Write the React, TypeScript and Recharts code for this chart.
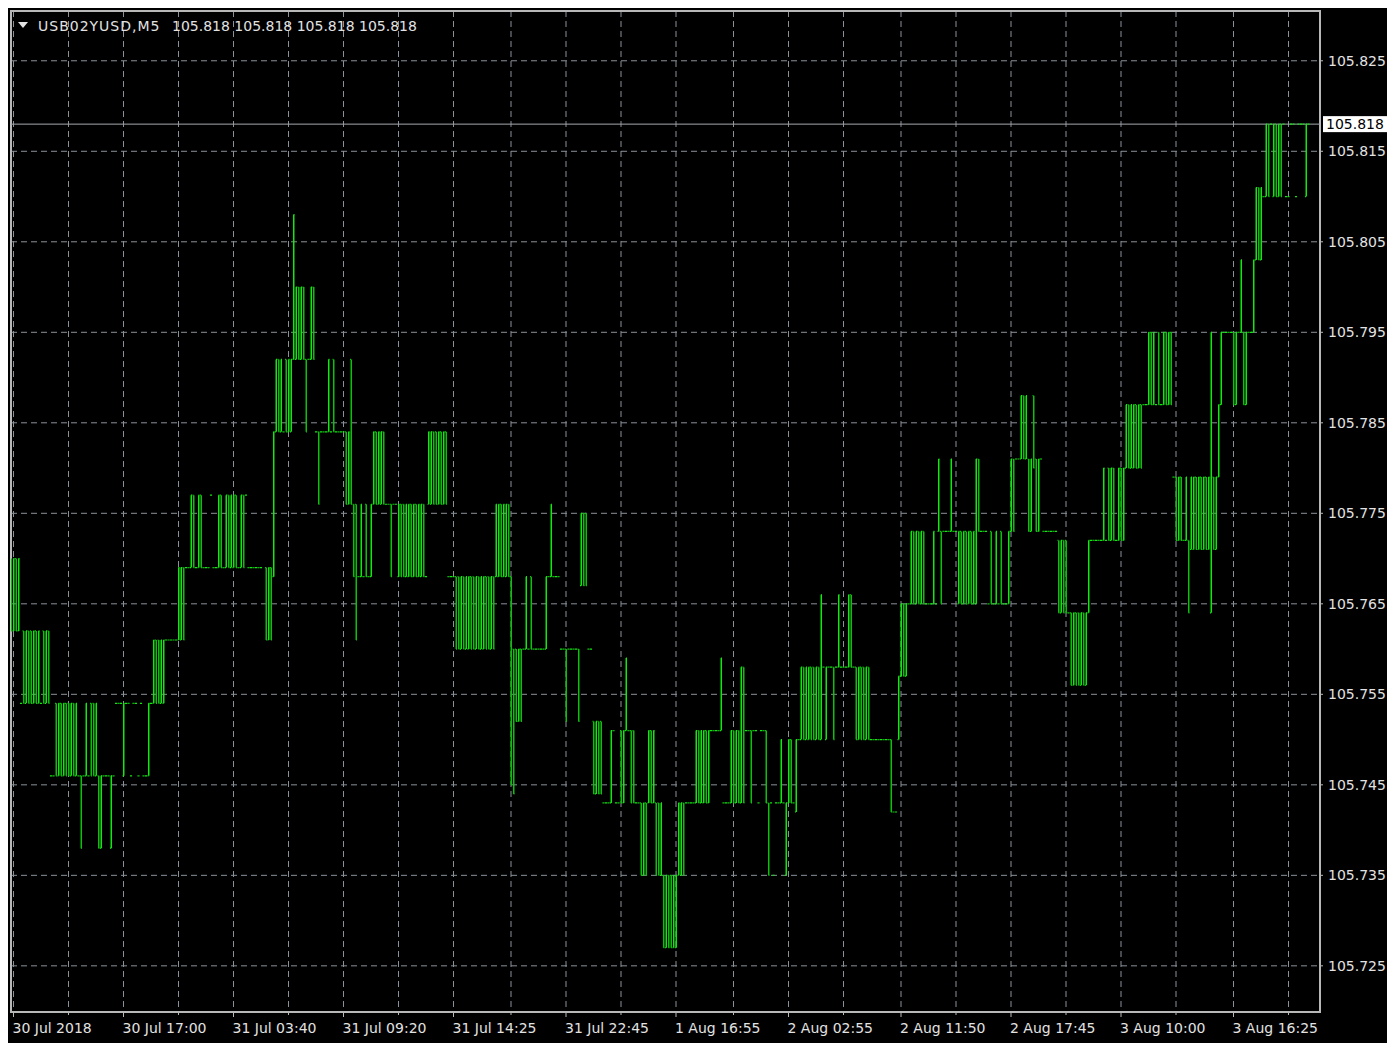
import React from "react";
import {
    ComposedChart,
    Bar,
    Scatter,
    XAxis,
    YAxis,
    CartesianGrid,
    ReferenceLine,
    ReferenceArea,
} from "recharts";

// each entry: [first bar number, low level, high level, bar pattern]
// u = low->high, d = high->low, l = flat at low, h = flat at high
type Seg = [number, number, number, string];

const jul30: Seg[] = [
    [0, 105.762, 105.77, "dudu"],
    [4, 105.754, 105.762, "ldudduduldud"],
    [16, 105.746, 105.754, "lldududdudul"],
    [28, 105.738, 105.746, "d"],
    [29, 105.746, 105.754, "lulddu"],
    [35, 105.738, 105.746, "du"],
    [37, 105.746, 105.754, "lll"],
    [40, 105.738, 105.746, "u"],
    [41, 105.746, 105.754, "lhhhuhhlhhlhllu"],
    [56, 105.754, 105.761, "ludduu"],
    [62, 105.761, 105.769, "llllluudh"],
    [71, 105.769, 105.777, "ludludlllhlludluduudludhllllll"],
    [102, 105.761, 105.769, "dud"],
    [105, 105.768, 105.784, "u"],
    [106, 105.784, 105.792, "udulduu"],
    [113, 105.792, 105.808, "u"],
    [114, 105.792, 105.8, "udud"],
    [118, 105.784, 105.792, "d"],
    [119, 105.792, 105.8, "lud"],
    [122, 105.776, 105.784, "hdh"],
    [125, 105.784, 105.792, "lluldllll"],
];

const jul31: Seg[] = [
    [134, 105.776, 105.784, "du"],
    [136, 105.776, 105.792, "d"],
    [137, 105.768, 105.776, "d"],
    [138, 105.761, 105.776, "d"],
    [139, 105.768, 105.776, "luldlu"],
    [145, 105.776, 105.784, "uduud"],
    [150, 105.768, 105.776, "hhdhh"],
    [155, 105.768, 105.776, "udduududuudl"],
    [167, 105.776, 105.784, "uuddudud"],
    [175, 105.76, 105.768, "hhh"],
    [178, 105.76, 105.768, "dduduudduduuddud"],
    [194, 105.768, 105.776, "uuduud"],
    [200, 105.745, 105.768, "d"],
    [201, 105.744, 105.76, "d"],
    [202, 105.752, 105.76, "dud"],
    [205, 105.76, 105.768, "luldllllluh"],
    [216, 105.768, 105.776, "ulll"],
    [220, 105.752, 105.76, "hhdhhhhd"],
    [228, 105.767, 105.775, "udd"],
    [231, 105.752, 105.76, "hh"],
    [233, 105.744, 105.752, "dudd"],
    [237, 105.743, 105.751, "llluhll"],
    [244, 105.743, 105.751, "du"],
    [246, 105.751, 105.759, "u"],
    [247, 105.743, 105.751, "hddl"],
    [251, 105.735, 105.743, "hdud"],
    [255, 105.743, 105.751, "udu"],
    [258, 105.735, 105.743, "ddu"],
    [261, 105.727, 105.735, "dudduu"],
];

const aug1: Seg[] = [
    [267, 105.735, 105.743, "uud"],
    [270, 105.743, 105.751, "llll"],
    [274, 105.743, 105.751, "uduudu"],
    [280, 105.743, 105.751, "hhh"],
    [283, 105.751, 105.759, "lu"],
    [285, 105.743, 105.751, "llludud"],
    [292, 105.743, 105.758, "ud"],
    [294, 105.743, 105.751, "h"],
    [295, 105.743, 105.751, "hdhhlhhd"],
    [303, 105.735, 105.743, "d"],
    [304, 105.735, 105.743, "hlhh"],
    [308, 105.743, 105.75, "ul"],
    [310, 105.735, 105.743, "u"],
];

const aug2: Seg[] = [
    [311, 105.743, 105.75, "udl"],
    [314, 105.742, 105.75, "u"],
    [315, 105.75, 105.758, "luduud"],
    [321, 105.75, 105.758, "dud"],
    [324, 105.75, 105.766, "u"],
    [325, 105.75, 105.758, "huhhdh"],
    [331, 105.758, 105.766, "u"],
    [332, 105.758, 105.766, "llludl"],
    [338, 105.75, 105.758, "duddud"],
    [344, 105.742, 105.75, "hhhhhhhh"],
    [352, 105.742, 105.75, "dll"],
    [355, 105.75, 105.757, "u"],
    [356, 105.757, 105.765, "udu"],
    [359, 105.765, 105.773, "ludududlllul"],
    [371, 105.773, 105.781, "u"],
    [372, 105.765, 105.773, "dhhh"],
    [376, 105.773, 105.781, "u"],
    [377, 105.765, 105.773, "hh"],
    [379, 105.765, 105.773, "udududu"],
    [386, 105.765, 105.781, "u"],
    [387, 105.773, 105.781, "d"],
    [388, 105.765, 105.773, "hhhl"],
    [392, 105.765, 105.773, "dluldllu"],
    [400, 105.773, 105.781, "ud"],
    [402, 105.773, 105.781, "hh"],
    [404, 105.781, 105.788, "udu"],
    [407, 105.773, 105.781, "du"],
    [409, 105.78, 105.788, "d"],
    [410, 105.773, 105.781, "duh"],
    [413, 105.773, 105.781, "llllll"],
    [419, 105.764, 105.772, "dudd"],
    [423, 105.756, 105.764, "hduddudu"],
    [431, 105.764, 105.772, "u"],
    [432, 105.772, 105.78, "lllll"],
];

const aug3: Seg[] = [
    [437, 105.772, 105.78, "uldudludu"],
    [446, 105.78, 105.787, "uduudud"],
    [453, 105.787, 105.795, "lluduldludud"],
    [465, 105.772, 105.779, "hdudlu"],
    [471, 105.764, 105.772, "d"],
    [472, 105.771, 105.779, "uudududu"],
    [480, 105.764, 105.795, "u"],
    [481, 105.771, 105.779, "du"],
    [483, 105.779, 105.787, "u"],
    [484, 105.787, 105.795, "u"],
    [485, 105.787, 105.795, "hhhh"],
    [489, 105.787, 105.795, "duh"],
    [492, 105.795, 105.803, "u"],
    [493, 105.787, 105.795, "du"],
    [495, 105.795, 105.803, "llu"],
    [498, 105.803, 105.811, "udu"],
    [501, 105.81, 105.818, "ludhududhl"],
    [511, 105.81, 105.818, "lhhlhhhu"],
    [519, 105.818, 105.818, "h"],
];

const xTicks = [1, 23, 45, 67, 89, 111, 133, 155, 177, 200, 222, 244, 266, 289, 311, 333, 356, 378, 400, 422, 444, 466, 489, 511];
const xLabels = [
    "30 Jul 2018", "", "30 Jul 17:00", "", "31 Jul 03:40", "", "31 Jul 09:20", "", "31 Jul 14:25", "",
    "31 Jul 22:45", "", "1 Aug 16:55", "", "2 Aug 02:55", "", "2 Aug 11:50", "", "2 Aug 17:45", "",
    "3 Aug 10:00", "", "3 Aug 16:25", "",
];
const yTicks = [105.725, 105.735, 105.745, 105.755, 105.765, 105.775, 105.785, 105.795, 105.805, 105.815, 105.825];
const lastPrice = 105.818;
const symbol = "USB02YUSD,M5";

const rows: any[] = [];
[...jul30, ...jul31, ...aug1, ...aug2, ...aug3].forEach(([start, lo, hi, pat]) => {
    pat.split("").forEach((c, k) => {
        const open = c === "u" || c === "l" ? lo : hi;
        const close = c === "d" || c === "l" ? lo : hi;
        const low = c === "h" ? hi : lo;
        const high = c === "l" ? lo : hi;
        rows.push({ i: start + k, range: [low, high], open, close });
    });
});

const UP = "#10e810";
const DOWN = "#0cc00c";
const FONT = "DejaVu Sans";
const TEXT = "#e2e2e2";
const X_DOMAIN = [0, 523.6];
const Y_DOMAIN = [105.7199, 105.8305];

const BarLine = (props: any) => {
    const { x, y, width, height, payload } = props;
    if (!height) return <g />;
    const cx = x + width / 2;
    const top = Math.min(y, y + height);
    const bot = Math.max(y, y + height);
    const col = payload.close >= payload.open ? UP : DOWN;
    return <line x1={cx} x2={cx} y1={top} y2={bot} stroke={col} strokeWidth={1.5} />;
};

const OpenTick = (p: any) => (
    <line x1={p.cx - 1} x2={p.cx} y1={p.cy} y2={p.cy} stroke={p.payload.close >= p.payload.open ? UP : DOWN} strokeWidth={1.2} />
);
const CloseTick = (p: any) => (
    <line x1={p.cx} x2={p.cx + 1} y1={p.cy} y2={p.cy} stroke={p.payload.close >= p.payload.open ? UP : DOWN} strokeWidth={1.2} />
);

const XTick = (props: any) => {
    const { x, y, payload } = props;
    const label = xLabels[xTicks.indexOf(payload.value)];
    return (
        <g>
            <line x1={x} x2={x} y1={y} y2={y + (label ? 5 : 3)} stroke="#b8b8b8" />
            {label ? (
                <text x={x - 1} y={y + 21} fill={TEXT} fontSize={14} fontFamily={FONT}>
                    {label}
                </text>
            ) : null}
        </g>
    );
};

const PriceTag = (props: any) => {
    const vb = props.viewBox || {};
    const left = vb.x + vb.width + 3;
    return (
        <g>
            <rect x={left} y={vb.y - 8} width={64} height={16} fill="#ffffff" />
            <text x={left + 3} y={vb.y + 5} fill="#000000" fontSize={14} fontFamily={FONT}>
                {lastPrice.toFixed(3)}
            </text>
        </g>
    );
};

const titleStyle: React.CSSProperties = {
    position: "absolute",
    top: 10,
    color: TEXT,
    fontFamily: FONT,
    fontSize: 14,
    lineHeight: "16px",
    whiteSpace: "pre",
};

const App: React.FC = () => {
    return (
        <div
            style={{
                position: "fixed",
                left: 0,
                top: 0,
                width: 1387,
                height: 1043,
                background: "#fff",
                overflow: "hidden",
            }}
        >
            <style>{"html,body{margin:0;overflow:hidden}"}</style>
            <div style={{ position: "absolute", left: 8, top: 8, width: 1379, height: 1035, background: "#000" }}>
                <ComposedChart
                    width={1379}
                    height={1035}
                    data={rows}
                    margin={{ top: 3, right: 0, left: 3, bottom: 0 }}
                >
                    <CartesianGrid stroke="#8a9199" strokeDasharray="6 4" />
                    <XAxis
                        type="number"
                        dataKey="i"
                        domain={X_DOMAIN}
                        ticks={xTicks}
                        interval={0}
                        tick={<XTick />}
                        tickLine={false}
                        tickSize={0}
                        tickMargin={0}
                        axisLine={false}
                        height={31}
                        allowDataOverflow
                    />
                    <YAxis
                        orientation="right"
                        type="number"
                        domain={Y_DOMAIN}
                        ticks={yTicks}
                        interval={0}
                        tickFormatter={(v) => Number(v).toFixed(3)}
                        tick={{ fill: TEXT, fontSize: 14, fontFamily: FONT }}
                        tickLine={{ stroke: "#b8b8b8" }}
                        tickSize={3}
                        tickMargin={5}
                        axisLine={false}
                        width={67}
                        allowDataOverflow
                    />
                    <Bar dataKey="range" barSize={1} shape={<BarLine />} isAnimationActive={false} />
                    <Scatter dataKey="open" shape={<OpenTick />} isAnimationActive={false} />
                    <Scatter dataKey="close" shape={<CloseTick />} isAnimationActive={false} />
                    <ReferenceLine y={lastPrice} stroke="#a4a8ad" strokeWidth={1} label={<PriceTag />} />
                    <ReferenceArea
                        x1={X_DOMAIN[0]}
                        x2={X_DOMAIN[1]}
                        y1={Y_DOMAIN[0]}
                        y2={Y_DOMAIN[1]}
                        fill="none"
                        stroke="#b8b8b8"
                        strokeWidth={2}
                        ifOverflow="visible"
                    />
                </ComposedChart>
                <div
                    style={{
                        position: "absolute",
                        left: 10,
                        top: 14,
                        width: 0,
                        height: 0,
                        borderLeft: "5px solid transparent",
                        borderRight: "5px solid transparent",
                        borderTop: "6px solid " + TEXT,
                    }}
                />
                <div style={{ ...titleStyle, left: 30, letterSpacing: 1 }}>{symbol}</div>
                <div style={{ ...titleStyle, left: 164 }}>
                    {[lastPrice, lastPrice, lastPrice, lastPrice].map((v) => v.toFixed(3)).join(" ")}
                </div>
            </div>
        </div>
    );
};

export default App;
